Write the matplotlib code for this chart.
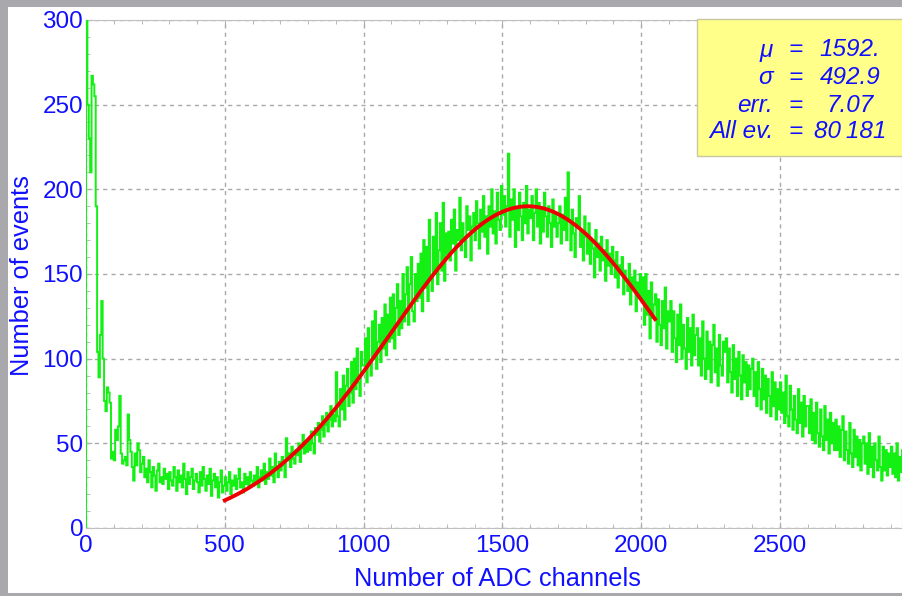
import numpy as np
import matplotlib
matplotlib.use("Agg")
import matplotlib.pyplot as plt
from matplotlib.patches import Rectangle
from matplotlib.ticker import MultipleLocator

plt.rcParams['font.family'] = ['Liberation Sans', 'DejaVu Sans']

# histogramm, 5 channels per bin, one row = 100 channels
bin_width = 5
counts = [
    310, 250, 230, 210, 267, 262, 255, 190, 104, 89, 114, 134, 100, 75, 69, 83, 80, 74, 41, 45,
    40, 58, 52, 60, 78, 44, 38, 40, 42, 37, 67, 52, 45, 36, 28, 44, 37, 50, 46, 33,
    38, 42, 30, 35, 27, 40, 33, 24, 36, 31, 22, 34, 38, 27, 30, 26, 35, 29, 32, 23,
    33, 28, 25, 36, 30, 22, 34, 27, 31, 24, 38, 29, 20, 33, 26, 30, 35, 23, 28, 32,
    27, 21, 33, 25, 36, 29, 22, 31, 26, 35, 19, 28, 32, 24, 30, 18, 27, 34, 21, 25,
    30, 22, 27, 33, 20, 28, 25, 31, 23, 29, 35, 24, 27, 21, 32, 26, 30, 24, 33, 28,
    25, 31, 27, 36, 24, 30, 34, 28, 38, 26, 33, 29, 41, 31, 36, 27, 44, 35, 30, 39,
    34, 42, 37, 30, 53, 40, 44, 36, 48, 41, 38, 46, 43, 50, 39, 47, 55, 44, 49, 45,
    52, 46, 57, 50, 44, 59, 55, 62, 51, 58, 66, 54, 61, 68, 57, 64, 72, 60, 67, 63,
    92, 66, 60, 82, 70, 90, 64, 84, 94, 72, 80, 98, 74, 100, 82, 106, 86, 78, 104, 96,
    96, 112, 86, 118, 98, 90, 122, 100, 128, 94, 110, 120, 98, 124, 106, 132, 102, 126, 110, 136,
    112, 138, 106, 130, 144, 114, 134, 118, 150, 122, 138, 154, 120, 144, 160, 128, 122, 150, 134, 156,
    136, 162, 128, 170, 142, 166, 134, 182, 148, 140, 172, 150, 186, 144, 164, 180, 152, 192, 146, 174,
    162, 175, 158, 182, 168, 188, 152, 176, 170, 195, 164, 180, 172, 160, 190, 176, 184, 158, 178, 186,
    170, 193, 180, 165, 188, 175, 196, 172, 184, 162, 190, 178, 200, 174, 187, 168, 198, 182, 176, 202,
    185, 196, 178, 190, 221, 172, 194, 182, 200, 166, 188, 176, 198, 184, 170, 192, 180, 202, 174, 188,
    183, 196, 170, 186, 200, 178, 192, 168, 188, 175, 198, 184, 172, 190, 180, 166, 194, 178, 186, 172,
    180, 190, 168, 185, 176, 195, 170, 210, 182, 164, 188, 174, 160, 183, 178, 196, 166, 175, 158, 184,
    172, 162, 180, 156, 170, 165, 148, 176, 160, 168, 152, 172, 158, 164, 146, 170, 155, 162, 150, 166,
    158, 148, 163, 142, 155, 150, 160, 138, 152, 146, 140, 156, 132, 148, 142, 152, 128, 145, 138, 150,
    134, 148, 120, 150, 126, 140, 112, 145, 124, 132, 138, 110, 135, 120, 108, 134, 118, 142, 106, 128,
    122, 134, 104, 128, 112, 98, 126, 108, 132, 100, 120, 106, 94, 124, 104, 118, 96, 126, 102, 114,
    118, 96, 112, 90, 122, 100, 88, 116, 94, 110, 86, 108, 120, 92, 106, 84, 114, 96, 90, 110,
    104, 112, 86, 106, 92, 80, 108, 88, 100, 78, 104, 90, 76, 102, 86, 98, 78, 96, 82, 94,
    100, 78, 92, 72, 98, 82, 70, 94, 76, 90, 68, 88, 78, 66, 92, 72, 86, 64, 82, 70,
    86, 68, 80, 62, 90, 66, 60, 84, 70, 58, 78, 64, 56, 82, 62, 74, 54, 78, 60, 72,
    72, 56, 76, 52, 68, 50, 74, 56, 48, 70, 54, 46, 72, 52, 64, 44, 68, 50, 62, 46,
    64, 46, 60, 42, 58, 66, 40, 57, 46, 38, 62, 44, 36, 58, 42, 54, 37, 52, 34, 50,
    54, 38, 50, 32, 56, 36, 48, 30, 50, 40, 34, 54, 36, 28, 48, 34, 46, 31, 44, 36,
    48, 32, 44, 30, 50, 28, 42, 33, 46, 34,
]
edges = np.arange(len(counts) + 1) * bin_width

# gauss fit (parameters from the stats box)
fit_mu = 1592.
fit_sigma = 492.9
fit_amp = 190.
fit_from = 500
fit_to = 2050

stats_labels = ["\u03bc", "\u03c3", "err.", "All ev."]
stats_values = ["1592.", "492.9", "7.07", "80\u2009181"]

W, H = 902, 596
blue = '#1010ff'

fig = plt.figure(figsize=(W / 100, H / 100), dpi=100)
fig.patch.set_facecolor('#a9a8ad')
# white panel inside the gray frame
fig.add_artist(Rectangle((8 / W, 3 / H), 1, (593 - 7) / H, transform=fig.transFigure,
                         facecolor='white', edgecolor='none', zorder=0))

ax = fig.add_axes([86 / W, (H - 528) / H, (W - 86) / W, (528 - 20) / H])
ax.set_facecolor('white')

ax.stairs(counts, edges, baseline=0, color='#14f014', linewidth=1.4, zorder=3)

# fit curve
xf = np.linspace(fit_from, fit_to, 300)
yf = fit_amp * np.exp(-(xf - fit_mu) ** 2 / (2 * fit_sigma ** 2))
ax.plot(xf, yf, color='#ee0000', linewidth=2.8, zorder=4)

ax.set_xlim(0, 2940)
ax.set_ylim(0, 300)
ax.xaxis.set_major_locator(MultipleLocator(500))
ax.xaxis.set_minor_locator(MultipleLocator(100))
ax.yaxis.set_major_locator(MultipleLocator(50))
ax.yaxis.set_minor_locator(MultipleLocator(10))

ax.grid(True, which='major', linestyle=(0, (3, 3)), color='#a8a8a8', linewidth=1)
ax.set_axisbelow(True)

for s in ax.spines.values():
    s.set_color('#c0c0c0')
ax.tick_params(which='both', direction='in', color='#b0b0b0', top=True, right=False)
ax.tick_params(which='major', length=4)
ax.tick_params(which='minor', length=3)
ax.tick_params(axis='x', labelsize=17.5, labelcolor=blue, pad=5)
ax.tick_params(axis='y', labelsize=17.5, labelcolor=blue, pad=2)

fig.text(497 / W, 1 - 579 / H, "Number of ADC channels", color=blue, fontsize=18.3,
         ha='center', va='center')
fig.text(22 / W, 1 - 276 / H, "Number of events", color=blue, fontsize=18.3,
         ha='center', va='center', rotation=90)

# stats box
fig.add_artist(Rectangle((697 / W, 1 - 156 / H), 1, (156 - 19) / H, transform=fig.transFigure,
                         facecolor='#ffff8a', edgecolor='#c8c8a0', linewidth=1, zorder=5))
rows_y = [50, 77, 105, 132]
for lab, val, yy in zip(stats_labels, stats_values, rows_y):
    fig.text(773 / W, 1 - yy / H, lab, color=blue, fontsize=17.5, style='italic',
             ha='right', va='center', zorder=6)
    fig.text(796 / W, 1 - yy / H, "=", color=blue, fontsize=17.5, style='italic',
             ha='center', va='center', zorder=6)
    fig.text(850 / W, 1 - yy / H, val, color=blue, fontsize=17.5, style='italic',
             ha='center', va='center', zorder=6)

fig.savefig("out.png", dpi=100, facecolor=fig.get_facecolor())
